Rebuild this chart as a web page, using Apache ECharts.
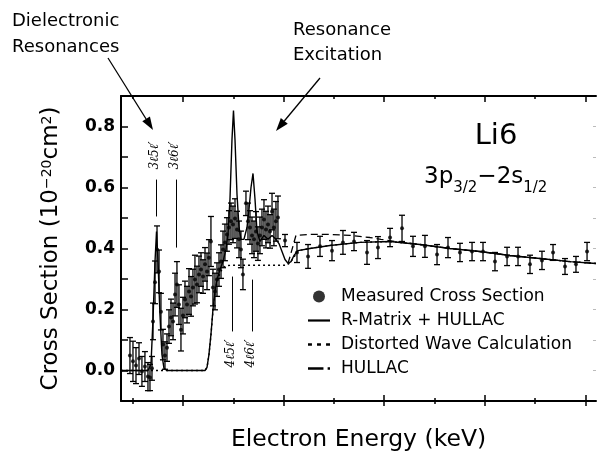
<!DOCTYPE html>
<html><head><meta charset="utf-8">
<script src="https://cdn.jsdelivr.net/npm/echarts@6/dist/echarts.min.js"></script>
<style>html,body{margin:0;padding:0;background:#fff}#c{width:597px;height:452px}</style>
</head><body><div id="c"></div>
<script>
// ---- data (x in arbitrary energy units: major ticks at 100..500, unlabeled) ----
const measX = [47.3,50.3,53.3,56.3,59.2,62.2,65.2,67.2,69.2,
  70.2,72.2,74.2,76.2,78.1,80.1,82.1,84.1,
  86.1,88.1,90.1,92.1,94.0,96.0,98.0,100.0,102.0,104.0,106.0,108.0,109.9,111.9,113.9,115.9,117.9,119.9,121.9,123.9,
  125.8,127.8,
  129.8,131.8,133.8,135.8,137.8,139.8,141.7,143.7,145.7,147.7,149.7,151.7,153.7,155.7,157.6,159.6,
  162.6,164.6,166.6,168.6,170.6,172.6,174.5,176.5,178.5,180.5,182.5,184.5,186.5,188.5,190.4,192.4,194.4,201.4,
  213.3,224.3,236.2,248.1,259.0,270.0,282.9,293.8,305.8,317.7,328.6,340.5,352.5,363.4,375.3,387.3,398.2,410.1,422.1,433.0,444.9,456.8,467.8,479.7,490.6,501.6];
const measY = [0.049,0.030,0.016,0.039,-0.003,0.013,-0.020,-0.023,0.007,
  0.161,0.289,0.397,0.325,0.193,0.085,0.049,0.075,
  0.144,0.174,0.161,0.249,0.282,0.216,0.134,0.180,0.233,0.216,0.259,0.243,0.272,0.298,0.282,0.315,0.331,0.308,0.348,0.325,
  0.370,0.423,
  0.272,0.259,0.298,0.331,0.357,0.397,0.420,0.446,0.469,0.489,0.479,0.498,0.462,0.430,0.397,0.315,
  0.548,0.489,0.469,0.443,0.430,0.456,0.416,0.443,0.469,0.495,0.462,0.479,0.456,0.521,0.469,0.489,0.502,0.426,
  0.387,0.374,0.407,0.393,0.420,0.423,0.387,0.403,0.436,0.466,0.407,0.407,0.380,0.403,0.387,0.390,0.390,0.357,0.374,0.374,0.348,0.361,0.387,0.341,0.348,0.390];
const measErr = [0.059,0.066,0.059,0.052,0.049,0.049,0.046,0.043,0.039,
  0.06,0.07,0.077,0.07,0.06,0.05,0.045,0.045,
  0.055,0.06,0.06,0.07,0.075,0.065,0.07,0.06,0.06,0.06,0.075,0.065,0.06,0.08,0.06,0.06,0.055,0.055,0.055,0.06,
  0.059,0.082,
  0.06,0.06,0.055,0.055,0.055,0.06,0.06,0.055,0.055,0.06,0.06,0.065,0.06,0.06,0.06,0.05,
  0.04,0.06,0.055,0.06,0.06,0.065,0.055,0.06,0.06,0.065,0.06,0.06,0.055,0.06,0.06,0.065,0.07,0.02,
  0.033,0.039,0.033,0.033,0.039,0.030,0.039,0.036,0.030,0.043,0.033,0.036,0.033,0.033,0.030,0.030,0.030,0.030,0.030,0.030,0.030,0.030,0.026,0.026,0.026,0.030];

const rmX = [38.4,65.2,68.2,70.2,72.2,73.7,75.2,77.1,79.1,81.1,84.1,121.9,123.9,125.8,127.8,129.8,131.8,133.8,136.8,139.8,142.7,144.7,146.7,148.7,150.2,151.7,153.7,155.7,157.7,160.6,163.6,165.6,167.6,169.6,171.6,173.6,176.5,180.5,184.5,188.5,192.4,195.4,198.4,201.4,204.4,207.4,210.3,214.3,226.2,246.1,275.9,305.8,335.6,365.4,395.2,425.0,454.9,484.7,510.5];
const rmY = [0,0,0.020,0.167,0.357,0.456,0.357,0.184,0.052,0.007,0,0,0.010,0.052,0.118,0.200,0.259,0.298,0.331,0.357,0.397,0.446,0.561,0.757,0.852,0.757,0.577,0.469,0.430,0.430,0.469,0.528,0.600,0.646,0.561,0.456,0.423,0.443,0.430,0.443,0.430,0.416,0.390,0.364,0.351,0.357,0.377,0.393,0.400,0.410,0.420,0.423,0.413,0.400,0.390,0.377,0.367,0.357,0.351];

const dwX = [38.4,121.9,123.9,125.8,127.8,129.8,131.8,133.8,136.8,139.8,143.0,150.0,170.0,190.0,203.0,206.0,209.0,212.0,214.3,226.2,246.1,275.9,305.8,335.6,365.4,395.2,425.0,454.9,484.7,510.5];
const dwY = [0,0,0.010,0.050,0.115,0.195,0.255,0.290,0.320,0.337,0.344,0.345,0.345,0.345,0.345,0.352,0.365,0.380,0.393,0.400,0.410,0.420,0.423,0.413,0.400,0.390,0.377,0.367,0.357,0.351];

const huX = [204.4,208.4,212.3,226.2,246.1,266.0,285.9,296.8,310.7,335.6,365.4,395.2,425.0,454.9,484.7,510.5];
const huY = [0.351,0.397,0.443,0.446,0.446,0.443,0.436,0.430,0.423,0.413,0.400,0.390,0.377,0.367,0.357,0.351];

const yTickLabels = [0, 0.2, 0.4, 0.6, 0.8];
const yTicks = [0, 0.1, 0.2, 0.3, 0.4, 0.5, 0.6, 0.7, 0.8];
const xMajor = [100, 200, 300, 400, 500];
const xMinor = [50, 150, 250, 350, 450];

const resLabels = ['3ℓ5ℓ′', '3ℓ6ℓ′', '4ℓ5ℓ′', '4ℓ6ℓ′'];
const resX = [73.2, 93.0, 148.7, 168.6];
const resTop = [0.626, 0.626, 0.308, 0.298];
const resBottom = [0.505, 0.403, 0.128, 0.128];

// ---- chart ----
const FONT = 'DejaVu Sans';
const xMin = 38.4, xMax = 510.5, yMin = -0.1, yMax = 0.9;
const chart = echarts.init(document.getElementById('c'));

function xAx(pos, vals, len, inside, showLine, extra) {
  return Object.assign({
    type: 'value', position: pos, min: xMin, max: xMax,
    axisLine: { show: showLine, onZero: false, lineStyle: { color: '#000', width: 2 } },
    axisTick: { show: true, inside: inside, length: len, customValues: vals, lineStyle: { color: '#000', width: 1.5 } },
    axisLabel: { show: false }, splitLine: { show: false }
  }, extra || {});
}

const option = {
  animation: false,
  backgroundColor: '#fff',
  grid: { left: 121, right: 1, top: 96, bottom: 51, containLabel: false, outerBoundsMode: 'none' },
  xAxis: [
    xAx('bottom', xMajor, 6, true, true, {
      name: 'Electron Energy (keV)', nameLocation: 'middle', nameGap: 27,
      nameTextStyle: { fontFamily: FONT, fontSize: 23.5, color: '#000' }
    }),
    xAx('bottom', xMajor, 5, false, false),
    xAx('bottom', xMinor, 3, true, false),
    xAx('bottom', xMinor, 3, false, false),
    xAx('top', xMajor, 6, true, true),
    xAx('top', xMinor, 3, true, false)
  ],
  yAxis: [
    {
      type: 'value', position: 'left', min: yMin, max: yMax,
      axisLine: { show: true, onZero: false, lineStyle: { color: '#000', width: 2 } },
      axisTick: { show: true, inside: true, length: 7, customValues: yTicks, lineStyle: { color: '#000', width: 1.5 } },
      axisLabel: { show: true, customValues: yTickLabels, margin: 6, formatter: v => v.toFixed(1),
        fontFamily: FONT, fontWeight: 'bold', fontSize: 17, color: '#000' },
      splitLine: { show: false },
      name: '{n|Cross Section (10}{sup|−20}{n|cm}{sup|2}{n|)}',
      nameLocation: 'middle', nameGap: 47,
      nameTextStyle: {
        fontFamily: FONT, fontSize: 23, color: '#000',
        rich: {
          n: { fontFamily: FONT, fontSize: 23, color: '#000', lineHeight: 34, verticalAlign: 'top' },
          sup: { fontFamily: FONT, fontSize: 14, color: '#000', lineHeight: 18, verticalAlign: 'top' }
        }
      }
    },
    {
      type: 'value', position: 'right', min: yMin, max: yMax,
      axisLine: { show: false },
      axisTick: { show: true, inside: true, length: 3, customValues: yTicks, lineStyle: { color: '#bbb', width: 1 } },
      axisLabel: { show: false }, splitLine: { show: false }
    }
  ],
  legend: {
    orient: 'vertical', left: 303, top: 283, itemWidth: 22, itemHeight: 12, itemGap: 7,
    textStyle: { fontFamily: FONT, fontSize: 17, color: '#000', lineHeight: 16, padding: [0, 0, 0, 6] },
    itemStyle: { color: '#000' },
    data: [
      { name: 'Measured Cross Section', icon: 'circle' },
      { name: 'R-Matrix + HULLAC', icon: 'path://M0,0h20v2h-20z' },
      { name: 'Distorted Wave Calculation', icon: 'path://M0,0h3.5v2h-3.5zM8,0h3.5v2h-3.5zM16,0h3.5v2h-3.5z' },
      { name: 'HULLAC', icon: 'path://M0,0h13v2h-13zM16.5,0h2v2h-2z' }
    ]
  },
  series: [
    {
      name: 'errorbars', type: 'custom', xAxisIndex: 0, yAxisIndex: 0,
      data: measX.map((x, i) => [x, measY[i], measErr[i]]),
      encode: { x: 0, y: 1 },
      renderItem: function (params, api) {
        const x = api.value(0), y = api.value(1), e = api.value(2);
        const t = api.coord([x, y + e]), b = api.coord([x, y - e]);
        const w = 3;
        const st = { stroke: '#000', lineWidth: 1.3 };
        return { type: 'group', children: [
          { type: 'line', shape: { x1: t[0], y1: t[1], x2: b[0], y2: b[1] }, style: st },
          { type: 'line', shape: { x1: t[0] - w, y1: t[1], x2: t[0] + w, y2: t[1] }, style: st },
          { type: 'line', shape: { x1: b[0] - w, y1: b[1], x2: b[0] + w, y2: b[1] }, style: st }
        ]};
      },
      z: 3
    },
    {
      name: 'Measured Cross Section', type: 'scatter', xAxisIndex: 0, yAxisIndex: 0,
      data: measX.map((x, i) => [x, measY[i]]),
      symbol: 'circle', symbolSize: 4, itemStyle: { color: '#000' }, z: 4
    },
    {
      name: 'R-Matrix + HULLAC', type: 'line', xAxisIndex: 0, yAxisIndex: 0,
      data: rmX.map((x, i) => [x, rmY[i]]),
      symbol: 'none', lineStyle: { color: '#000', width: 1.4 }, itemStyle: { color: '#000' }, z: 5,
      markLine: {
        silent: true, symbol: ['none', 'none'], label: { show: false },
        lineStyle: { color: '#000', width: 1, type: 'solid' },
        data: resX.map((x, i) => [{ coord: [x, resBottom[i]] }, { coord: [x, resTop[i]] }])
      }
    },
    {
      name: 'Distorted Wave Calculation', type: 'line', xAxisIndex: 0, yAxisIndex: 0,
      data: dwX.map((x, i) => [x, dwY[i]]),
      symbol: 'none', lineStyle: { color: '#000', width: 1.4, type: [2, 3] }, itemStyle: { color: '#000' }, z: 2
    },
    {
      name: 'HULLAC', type: 'line', xAxisIndex: 0, yAxisIndex: 0,
      data: huX.map((x, i) => [x, huY[i]]),
      symbol: 'none', lineStyle: { color: '#000', width: 1.3, type: [7, 4] }, itemStyle: { color: '#000' }, z: 2
    }
  ]
};
chart.setOption(option);

function arrow(x1, y1, x2, y2) {
  const dx = x2 - x1, dy = y2 - y1, L = Math.hypot(dx, dy), ux = dx / L, uy = dy / L;
  const hl = 13, hw = 4.5, bx = x2 - ux * hl, by = y2 - uy * hl;
  return [
    { type: 'line', shape: { x1: x1, y1: y1, x2: bx, y2: by }, style: { stroke: '#000', lineWidth: 1.3 } },
    { type: 'polygon', shape: { points: [[x2, y2], [bx - uy * hw, by + ux * hw], [bx + uy * hw, by - ux * hw]] }, style: { fill: '#000' } }
  ];
}

const elems = [
  { type: 'text', x: 12, y: 8, style: { text: 'Dielectronic\nResonances', fontFamily: FONT, fontSize: 18, lineHeight: 26, fill: '#000' } },
  { type: 'text', x: 293, y: 18, style: { text: 'Resonance\nExcitation', fontFamily: FONT, fontSize: 18, lineHeight: 25, fill: '#000' } },
  { type: 'text', x: 496, y: 136, style: { text: 'Li6', fontFamily: FONT, fontSize: 29, fill: '#000', align: 'center', verticalAlign: 'middle' } },
  { type: 'text', x: 424, y: 166, style: {
      text: '{m|3p}{s|3/2}{m|−2s}{s|1/2}', fill: '#000',
      rich: {
        m: { fontFamily: FONT, fontSize: 23, lineHeight: 30, verticalAlign: 'top', fill: '#000' },
        s: { fontFamily: FONT, fontSize: 15, lineHeight: 30, verticalAlign: 'bottom', fill: '#000' }
      } } }
].concat(arrow(108, 58, 153, 130), arrow(320, 78, 276, 131));

resLabels.forEach((t, i) => {
  const above = i < 2;
  const p = chart.convertToPixel({ seriesIndex: 2 }, [resX[i], above ? resTop[i] : resBottom[i]]);
  elems.push({ type: 'text', x: p[0] - 1, y: above ? p[1] - 24 : p[1] + 22, rotation: Math.PI / 2,
    style: { text: t, fontFamily: 'DejaVu Serif', fontStyle: 'italic', fontSize: 12, fill: '#000', align: 'center', verticalAlign: 'middle' } });
});
chart.setOption({ graphic: { elements: elems } });
</script>
</body></html>
